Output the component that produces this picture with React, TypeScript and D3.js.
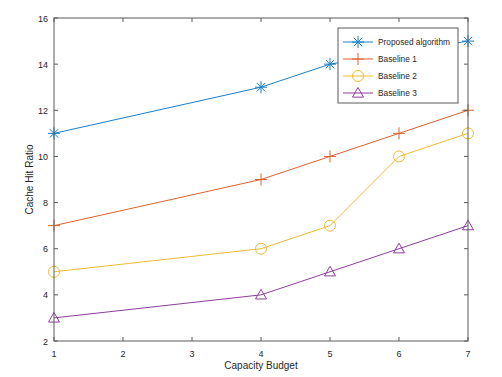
import React from "react";
import * as d3 from "d3";

const xValues = [1, 4, 5, 6, 7];
const proposed = [11, 13, 14, 14.5, 15];
const baseline1 = [7, 9, 10, 11, 12];
const baseline2 = [5, 6, 7, 10, 11];
const baseline3 = [3, 4, 5, 6, 7];
const seriesNames = ["Proposed algorithm", "Baseline 1", "Baseline 2", "Baseline 3"];
const xTicks = [1, 2, 3, 4, 5, 6, 7];
const yTicks = [2, 4, 6, 8, 10, 12, 14, 16];

const colors = ["#1a7fc8", "#dd6130", "#eebb33", "#8a3f99"];
const markers = ["asterisk", "plus", "circle", "triangle"];

function Marker({ type, x, y, color }: { type: string; x: number; y: number; color: string }) {
  const s = 6;
  if (type === "asterisk") {
    const d = s * 0.7;
    return (
      <g stroke={color} strokeWidth={1}>
        <line x1={x - s} y1={y} x2={x + s} y2={y} />
        <line x1={x} y1={y - s} x2={x} y2={y + s} />
        <line x1={x - d} y1={y - d} x2={x + d} y2={y + d} />
        <line x1={x - d} y1={y + d} x2={x + d} y2={y - d} />
      </g>
    );
  }
  if (type === "plus") {
    return (
      <g stroke={color} strokeWidth={1}>
        <line x1={x - s} y1={y} x2={x + s} y2={y} />
        <line x1={x} y1={y - s} x2={x} y2={y + s} />
      </g>
    );
  }
  if (type === "circle") {
    return <circle cx={x} cy={y} r={5.5} fill="none" stroke={color} strokeWidth={1} />;
  }
  const h = 5.5;
  return (
    <path
      d={`M${x},${y - h} L${x + h},${y + h * 0.75} L${x - h},${y + h * 0.75} Z`}
      fill="none"
      stroke={color}
      strokeWidth={1}
    />
  );
}

export default function App() {
  const W = 502, H = 377;
  const left = 54, right = 468, top = 18, bottom = 341;
  const x = d3.scaleLinear().domain([1, 7]).range([left, right]);
  const y = d3.scaleLinear().domain([2, 16]).range([bottom, top]);
  const allSeries = [proposed, baseline1, baseline2, baseline3];
  const line = d3.line<number>().x((_, i) => x(xValues[i])).y((v) => y(v));
  const axisColor = "#5a5a5a";
  const font = "Liberation Sans, Arial, sans-serif";
  const tl = 4;

  const lx = 338, ly = 28, lw = 120, lh = 75;

  return (
    <svg width={W} height={H} style={{ position: "absolute", left: 0, top: 0 }} fontFamily={font}>
      <rect x={0} y={0} width={W} height={H} fill="#fff" />
      {allSeries.map((s, k) => (
        <g key={k}>
          <path d={line(s) || ""} fill="none" stroke={colors[k]} strokeWidth={1} />
          {s.map((v, i) => (
            <Marker key={i} type={markers[k]} x={x(xValues[i])} y={y(v)} color={colors[k]} />
          ))}
        </g>
      ))}
      {/* axes box */}
      <rect x={left} y={top} width={right - left} height={bottom - top} fill="none" stroke={axisColor} strokeWidth={1} />
      {xTicks.map((t) => (
        <g key={"x" + t}>
          <line x1={x(t)} x2={x(t)} y1={bottom} y2={bottom - tl} stroke={axisColor} />
          <line x1={x(t)} x2={x(t)} y1={top} y2={top + tl} stroke={axisColor} />
          <text x={x(t)} y={357} textAnchor="middle" fontSize={9} fill="#262626">{t}</text>
        </g>
      ))}
      {yTicks.map((t) => (
        <g key={"y" + t}>
          <line x1={left} x2={left + tl} y1={y(t)} y2={y(t)} stroke={axisColor} />
          <line x1={right} x2={right - tl} y1={y(t)} y2={y(t)} stroke={axisColor} />
          <text x={48} y={y(t) + 3.5} textAnchor="end" fontSize={9} fill="#262626">{t}</text>
        </g>
      ))}
      <text x={(left + right) / 2} y={369} textAnchor="middle" fontSize={10} fill="#262626">Capacity Budget</text>
      <text transform={`translate(33,${(top + bottom) / 2}) rotate(-90)`} textAnchor="middle" fontSize={10} fill="#262626">Cache Hit Ratio</text>
      {/* legend */}
      <rect x={lx} y={ly} width={lw} height={lh} fill="#fff" stroke={axisColor} strokeWidth={1} />
      {seriesNames.map((n, k) => {
        const ry = 42 + k * 17;
        return (
          <g key={n}>
            <line x1={343} x2={373} y1={ry} y2={ry} stroke={colors[k]} strokeWidth={1} />
            <Marker type={markers[k]} x={358} y={ry} color={colors[k]} />
            <text x={378} y={ry + 3} fontSize={8.3} fill="#262626">{n}</text>
          </g>
        );
      })}
    </svg>
  );
}
